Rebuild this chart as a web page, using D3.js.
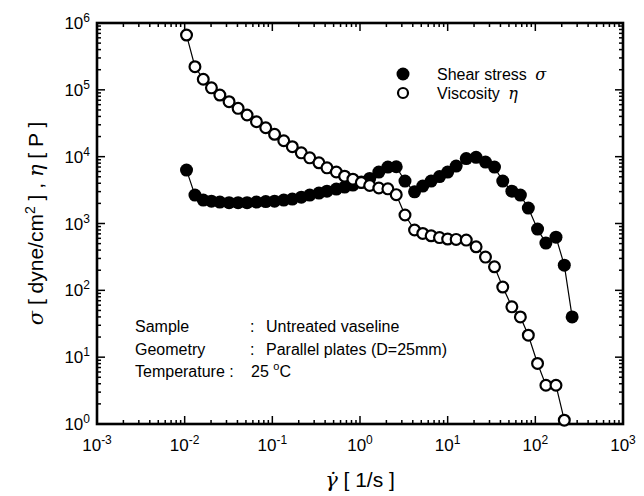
<!DOCTYPE html>
<html><head><meta charset="utf-8">
<script src="https://cdn.jsdelivr.net/npm/d3@7/dist/d3.min.js"></script>
<style>body{margin:0;background:#fff}svg{display:block}text{font-family:"Liberation Sans",Arial,sans-serif;fill:#000}</style>
</head><body>
<svg id="c" width="644" height="496"></svg>
<script>
// Shear stress (filled circles)
const rateStress = [0.0105,0.0131,0.0163,0.0202,0.0252,0.0321,0.0407,0.0515,0.0659,0.0841,0.106,0.135,0.169,0.214,0.267,0.340,0.420,0.537,0.668,0.830,1.035,1.29,1.64,2.08,2.59,3.26,4.19,5.20,6.48,8.07,10.0,12.5,16.3,21.1,27.0,34.2,42.5,54.0,67.5,83.2,106,132,172,214,263];
const stress = [6300,2660,2240,2160,2090,2050,2050,2050,2090,2130,2160,2240,2320,2480,2660,2850,3050,3270,3510,3760,4170,4730,5880,6980,7060,4310,2980,3630,4310,5040,5880,7230,9370,9770,8300,6980,4310,3050,2660,1700,824,509,625,238,40];
// Viscosity (open circles)
const rateVisc = [0.0105,0.0131,0.0163,0.0202,0.0252,0.0321,0.0407,0.0515,0.0659,0.0841,0.106,0.135,0.169,0.214,0.267,0.340,0.420,0.537,0.668,0.830,1.035,1.29,1.64,2.08,2.59,3.26,4.19,5.20,6.48,8.07,10.0,12.5,16.3,21.1,27.0,34.2,42.5,54.0,67.5,83.2,106,132,172,214];
const visc = [660000,222000,144000,107000,83600,66400,52800,42000,33300,27100,21600,17300,14100,11400,9600,8100,6800,5900,5100,4600,4100,3700,3400,3300,2700,1340,800,710,655,615,585,578,564,448,314,225,112,56.6,40,21.3,8.05,3.8,3.8,1.14];
const xTickExp = [-3,-2,-1,0,1,2,3];
const yTickExp = [0,1,2,3,4,5,6];
const legendLabels = [["Shear stress ","σ"],["Viscosity ","η"]];
const infoLines = [["Sample",":","Untreated vaseline"],["Geometry",":","Parallel plates (D=25mm)"],["Temperature :","","25 °C"]];

const W=644,H=496,m={l:97,r:21,t:23,b:72};
const svg=d3.select("#c");
const x=d3.scaleLog().domain([1e-3,1e3]).range([m.l,W-m.r]);
const y=d3.scaleLog().domain([1,1e6]).range([H-m.b,m.t]);
const pw=W-m.r-m.l, ph=H-m.b-m.t;

const minorX=[],minorY=[];
for(let e=-3;e<3;e++)for(let k=2;k<10;k++)minorX.push(k*Math.pow(10,e));
for(let e=0;e<6;e++)for(let k=2;k<10;k++)minorY.push(k*Math.pow(10,e));
const g=svg.append("g");
function ticks(arr,len,horiz){
  arr.forEach(v=>{
    if(horiz){const px=x(v);
      g.append("line").attr("x1",px).attr("x2",px).attr("y1",H-m.b).attr("y2",H-m.b-len).attr("stroke","#000").attr("stroke-width",1.5);
      g.append("line").attr("x1",px).attr("x2",px).attr("y1",m.t).attr("y2",m.t+len).attr("stroke","#000").attr("stroke-width",1.5);
    }else{const py=y(v);
      g.append("line").attr("y1",py).attr("y2",py).attr("x1",m.l).attr("x2",m.l+len).attr("stroke","#000").attr("stroke-width",1.5);
      g.append("line").attr("y1",py).attr("y2",py).attr("x1",W-m.r).attr("x2",W-m.r-len).attr("stroke","#000").attr("stroke-width",1.5);
    }
  });
}
ticks(minorX,4,true);ticks(minorY,4,false);
ticks(xTickExp.map(e=>Math.pow(10,e)),8,true);ticks(yTickExp.map(e=>Math.pow(10,e)),8,false);
svg.append("rect").attr("x",m.l).attr("y",m.t).attr("width",pw).attr("height",ph).attr("fill","none").attr("stroke","#000").attr("stroke-width",2.6);

xTickExp.forEach(e=>{
  const t=svg.append("text").attr("x",x(Math.pow(10,e))).attr("y",H-m.b+27).attr("text-anchor","middle").attr("font-size",17);
  t.append("tspan").text("10");
  t.append("tspan").attr("dy",-7).attr("font-size",12).text(e);
});
yTickExp.forEach(e=>{
  const t=svg.append("text").attr("x",m.l-7).attr("y",y(Math.pow(10,e))+6).attr("text-anchor","end").attr("font-size",17);
  t.append("tspan").text("10");
  t.append("tspan").attr("dy",-7).attr("font-size",12).text(e);
});

const xt=svg.append("text").attr("x",m.l+pw/2).attr("y",H-9).attr("text-anchor","middle").attr("font-size",21);
xt.append("tspan").attr("font-style","italic").attr("font-family","DejaVu Serif").text("γ̇");
xt.append("tspan").text("  [ 1/s ]");
const yt=svg.append("text").attr("transform",`translate(43,${m.t+ph/2}) rotate(-90)`).attr("text-anchor","middle").attr("font-size",21);
yt.append("tspan").attr("font-style","italic").attr("font-family","DejaVu Serif").text("σ");
yt.append("tspan").text(" [ dyne/cm");
yt.append("tspan").attr("dy",-8).attr("font-size",14).text("2");
yt.append("tspan").attr("dy",8).text(" ]   ,   ");
yt.append("tspan").attr("font-style","italic").attr("font-family","DejaVu Serif").text("η");
yt.append("tspan").text(" [ P ]");

const line=d3.line().x(d=>x(d[0])).y(d=>y(d[1]));
const sData=rateStress.map((r,i)=>[r,stress[i]]);
const vData=rateVisc.map((r,i)=>[r,visc[i]]);
svg.append("path").attr("d",line(sData)).attr("fill","none").attr("stroke","#000").attr("stroke-width",1.2);
svg.append("path").attr("d",line(vData)).attr("fill","none").attr("stroke","#000").attr("stroke-width",1.2);
svg.selectAll(".s").data(sData).enter().append("circle").attr("cx",d=>x(d[0])).attr("cy",d=>y(d[1])).attr("r",6.5).attr("fill","#000");
svg.selectAll(".v").data(vData).enter().append("circle").attr("cx",d=>x(d[0])).attr("cy",d=>y(d[1])).attr("r",5.4).attr("fill","#fff").attr("stroke","#000").attr("stroke-width",2.2);

legendLabels.forEach((l,i)=>{
  const cy=74+i*19;
  const c=svg.append("circle").attr("cx",403).attr("cy",cy).attr("r",i?5:6.5);
  if(i)c.attr("fill","#fff").attr("stroke","#000").attr("stroke-width",2.2);else c.attr("fill","#000");
  const t=svg.append("text").attr("x",437).attr("y",cy+6).attr("font-size",16);
  t.append("tspan").text(l[0]);
  t.append("tspan").attr("dx",4).attr("font-style","italic").attr("font-family","DejaVu Serif").text(l[1]);
});

infoLines.forEach((l,i)=>{
  const yy=332+i*22.5;
  svg.append("text").attr("x",135).attr("y",yy).attr("font-size",16).text(l[0]);
  if(l[1])svg.append("text").attr("x",250).attr("y",yy).attr("font-size",16).text(l[1]);
  if(i<2)svg.append("text").attr("x",266).attr("y",yy).attr("font-size",16).text(l[2]);
  else{const t=svg.append("text").attr("x",251).attr("y",yy).attr("font-size",16);
    t.append("tspan").text("25 ");
    t.append("tspan").attr("dy",-7).attr("font-size",11).text("o");
    t.append("tspan").attr("dy",7).text("C");}
});
</script>
</body></html>
